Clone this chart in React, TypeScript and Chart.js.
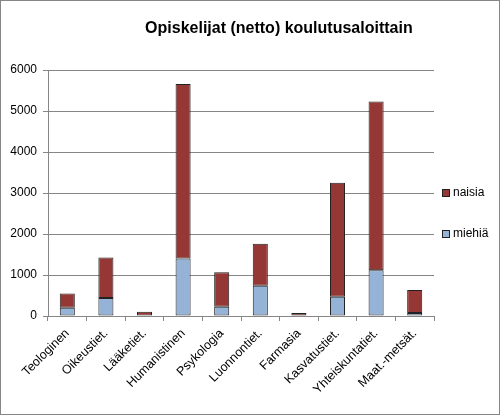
import React, { useEffect, useRef } from "react";
import { Chart, registerables } from "chart.js";

Chart.register(...registerables);

const chartTitle = "Opiskelijat (netto) koulutusaloittain";
const categories = [
  "Teologinen",
  "Oikeustiet.",
  "Lääketiet.",
  "Humanistinen",
  "Psykologia",
  "Luonnontiet.",
  "Farmasia",
  "Kasvatustiet.",
  "Yhteiskuntatiet.",
  "Maat.-metsät.",
];
const miehia = [200, 440, 0, 1400, 225, 735, 0, 470, 1115, 75];
const naisia = [350, 985, 105, 4260, 840, 1030, 75, 2780, 4115, 560];
const yTicks = [0, 1000, 2000, 3000, 4000, 5000, 6000];

const FONT = "'Liberation Sans', Arial, sans-serif";
const GRID = "#868686";

const titlePlugin = {
  id: "customTitle",
  afterDraw(chart: any) {
    const ctx = chart.ctx;
    ctx.save();
    ctx.font = "bold 16px 'Liberation Sans Narrow', 'Liberation Sans', Arial, sans-serif";
    ctx.fillStyle = "#000";
    ctx.textAlign = "center";
    ctx.textBaseline = "middle";
    ctx.fillText(chartTitle, chart.width * 0.558, 28);
    ctx.restore();
  },
};

const legendPlugin = {
  id: "customLegend",
  afterDraw(chart: any) {
    const ctx = chart.ctx;
    const area = chart.chartArea;
    const h = area.bottom - area.top;
    const fracs = [0.5, 0.666];
    const ds = chart.data.datasets.slice().reverse();
    ctx.save();
    ctx.font = "12px " + FONT;
    ctx.textBaseline = "middle";
    ctx.textAlign = "left";
    ds.forEach((d: any, i: number) => {
      const y = Math.round(area.top + h * fracs[i]);
      const x = Math.round(area.right + 8);
      ctx.fillStyle = d.backgroundColor;
      ctx.fillRect(x + 0.5, y - 3.5, 7, 7);
      ctx.strokeStyle = "#222";
      ctx.lineWidth = 1;
      ctx.strokeRect(x + 0.5, y - 3.5, 7, 7);
      ctx.fillStyle = "#000";
      ctx.fillText(d.label, x + 11, y);
    });
    ctx.restore();
  },
};

export default function App() {
  const ref = useRef<HTMLCanvasElement>(null);
  useEffect(() => {
    document.body.style.margin = "0";
    const chart = new Chart(ref.current!, {
      type: "bar",
      data: {
        labels: categories,
        datasets: [
          {
            label: "miehiä",
            data: miehia,
            backgroundColor: "#95B3D7",
            borderColor: "#222",
            borderWidth: 1,
            borderSkipped: false,
            barPercentage: 0.39,
            categoryPercentage: 1,
          },
          {
            label: "naisia",
            data: naisia,
            backgroundColor: "#953735",
            borderColor: "#222",
            borderWidth: 1,
            borderSkipped: false,
            barPercentage: 0.39,
            categoryPercentage: 1,
          },
        ],
      },
      options: {
        animation: false,
        responsive: false,
        maintainAspectRatio: false,
        layout: { padding: { top: 69, right: 65, left: 0, bottom: 0 } },
        plugins: {
          legend: { display: false },
          title: { display: false },
          tooltip: { enabled: false },
        },
        scales: {
          x: {
            stacked: true,
            afterFit: (s: any) => {
              s.height = 98;
            },
            grid: {
              display: true,
              drawOnChartArea: false,
              drawTicks: true,
              tickLength: 5,
              color: GRID,
              offset: true,
            },
            border: { display: true, color: GRID },
            ticks: {
              maxRotation: 45,
              minRotation: 45,
              autoSkip: false,
              padding: 5,
              color: "#000",
              font: { family: FONT, size: 12.5 },
            },
          },
          y: {
            stacked: true,
            min: 0,
            max: 6000,
            afterFit: (s: any) => {
              s.width = 47;
            },
            afterBuildTicks: (s: any) => {
              s.ticks = yTicks.map((v) => ({ value: v }));
            },
            grid: {
              color: GRID,
              tickLength: 5,
            },
            border: { display: true, color: GRID },
            ticks: {
              padding: 6,
              color: "#000",
              font: { family: FONT, size: 12 },
              callback: (v: any) => String(v),
            },
          },
        },
      },
      plugins: [titlePlugin, legendPlugin],
    });
    return () => chart.destroy();
  }, []);
  return (
    <div
      style={{
        width: 500,
        height: 415,
        border: "1px solid #868686",
        boxSizing: "border-box",
        background: "#fff",
      }}
    >
      <canvas ref={ref} width={498} height={413} style={{ display: "block" }} />
    </div>
  );
}
